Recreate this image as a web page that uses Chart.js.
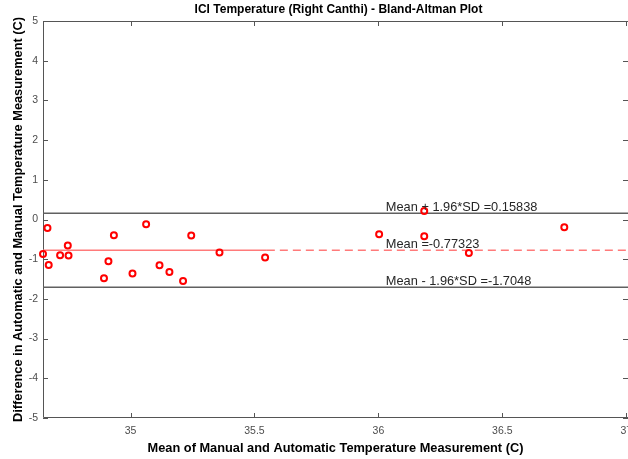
<!DOCTYPE html>
<html>
<head>
<meta charset="utf-8">
<title>ICI Temperature (Right Canthi) - Bland-Altman Plot</title>
<script src="https://cdn.jsdelivr.net/npm/chart.js@4.4.1/dist/chart.umd.min.js"></script>
<style>
  html, body { margin: 0; padding: 0; background: #fff; overflow: hidden; }
</style>
</head>
<body>
<canvas id="baChart" width="628" height="459"></canvas>
<script>
// mean of manual and automatic reading (x) against their difference (y)
var meanVals = [34.647, 34.665, 34.670, 34.716, 34.747, 34.750, 34.893, 34.911, 34.933, 35.008, 35.063,
                35.117, 35.157, 35.212, 35.245, 35.359, 35.543, 36.003, 36.185, 36.185, 36.365, 36.750];
var diffVals = [-0.867, -0.212, -1.144, -0.900, -0.655, -0.907, -1.480, -1.051, -0.396, -1.361, -0.118,
                -1.152, -1.321, -1.548, -0.403, -0.832, -0.958, -0.371, 0.217, -0.421, -0.842, -0.194];

var xTicks = [35, 35.5, 36, 36.5, 37];
var yTicks = [-5, -4, -3, -2, -1, 0, 1, 2, 3, 4, 5];
var xRange = [34.647, 37.007];
var yRange = [-5, 5];

// limits of agreement
var meanDiff = -0.77323;
var upperLoA = 0.15838;
var lowerLoA = -1.7048;
var meanSolidEnd = 35.55;   // mean line is solid up to here, dashed after
var labelX = 36.03;

var labelTexts = [
  { y: upperLoA, text: 'Mean + 1.96*SD =' + upperLoA },
  { y: meanDiff, text: 'Mean =' + meanDiff },
  { y: lowerLoA, text: 'Mean - 1.96*SD =' + lowerLoA }
];

var FONT = "'Liberation Sans', Arial, sans-serif";
Chart.defaults.font.family = FONT;

var points = meanVals.map(function (m, i) { return { x: m, y: diffVals[i] }; });

function hLine(y, x0, x1) {
  return [{ x: x0, y: y }, { x: x1, y: y }];
}

// box, inward ticks, line labels and title
var axesPlugin = {
  id: 'axesPlugin',
  beforeDatasetsDraw: function (chart) {
    var ctx = chart.ctx, a = chart.chartArea;
    var xs = chart.scales.x, ys = chart.scales.y;
    ctx.save();
    ctx.strokeStyle = '#555';
    ctx.lineWidth = 1;
    ctx.beginPath();
    ctx.rect(a.left + 0.5, a.top + 0.5, a.right - a.left, a.bottom - a.top - 1);
    xTicks.forEach(function (v) {
      var px = Math.round(xs.getPixelForValue(v)) + 0.5;
      ctx.moveTo(px, a.bottom); ctx.lineTo(px, a.bottom - 5);
      ctx.moveTo(px, a.top); ctx.lineTo(px, a.top + 5);
    });
    yTicks.forEach(function (v) {
      var py = Math.round(ys.getPixelForValue(v)) + 0.5;
      ctx.moveTo(a.left, py); ctx.lineTo(a.left + 5, py);
      ctx.moveTo(a.right, py); ctx.lineTo(a.right - 5, py);
    });
    ctx.stroke();
    ctx.restore();
  },
  afterDatasetsDraw: function (chart) {
    var ctx = chart.ctx, a = chart.chartArea;
    var xs = chart.scales.x, ys = chart.scales.y;
    ctx.save();
    ctx.fillStyle = '#262626';
    ctx.font = '12.8px ' + FONT;
    ctx.textAlign = 'left';
    ctx.textBaseline = 'alphabetic';
    labelTexts.forEach(function (l) {
      ctx.fillText(l.text, xs.getPixelForValue(labelX), ys.getPixelForValue(l.y) - 2);
    });
    ctx.fillStyle = '#000';
    ctx.font = 'bold 12px ' + FONT;
    ctx.textAlign = 'center';
    ctx.textBaseline = 'middle';
    ctx.fillText('ICI Temperature (Right Canthi) - Bland-Altman Plot', (a.left + a.right) / 2 + 3, 10);
    ctx.restore();
  }
};

var baChart = new Chart(document.getElementById('baChart'), {
  type: 'scatter',
  data: {
    datasets: [
      {
        label: 'Differences',
        data: points,
        borderColor: '#ff0000',
        backgroundColor: 'rgba(255,255,255,0)',
        pointRadius: 3,
        pointBorderWidth: 2,
        showLine: false,
        clip: false
      },
      {
        label: 'Mean',
        data: hLine(meanDiff, xRange[0], meanSolidEnd),
        showLine: true,
        borderColor: '#ff7a7a',
        borderWidth: 1.5,
        pointRadius: 0
      },
      {
        label: 'Mean (extended)',
        data: hLine(meanDiff, meanSolidEnd, xRange[1]),
        showLine: true,
        borderColor: '#ff7a7a',
        borderWidth: 1.5,
        borderDash: [8, 5],
        pointRadius: 0
      },
      {
        label: 'Upper limit',
        data: hLine(upperLoA, xRange[0], xRange[1]),
        showLine: true,
        borderColor: '#606060',
        borderWidth: 1.5,
        pointRadius: 0
      },
      {
        label: 'Lower limit',
        data: hLine(lowerLoA, xRange[0], xRange[1]),
        showLine: true,
        borderColor: '#606060',
        borderWidth: 1.5,
        pointRadius: 0
      }
    ]
  },
  options: {
    responsive: false,
    animation: false,
    devicePixelRatio: 1,
    layout: { autoPadding: false, padding: { top: 21, right: 0, bottom: 0, left: 0 } },
    plugins: {
      legend: { display: false },
      title: { display: false },
      tooltip: { enabled: false }
    },
    scales: {
      x: {
        type: 'linear',
        min: xRange[0],
        max: xRange[1],
        afterBuildTicks: function (s) { s.ticks = xTicks.map(function (v) { return { value: v }; }); },
        afterFit: function (s) { s.height = 41; s.paddingLeft = 0; s.paddingRight = 0; },
        grid: { display: false, drawTicks: false },
        border: { display: false },
        ticks: {
          color: '#4d4d4d',
          font: { size: 10.5 },
          padding: 7,
          maxRotation: 0,
          autoSkip: false,
          callback: function (v) { return String(v); }
        },
        title: {
          display: true,
          text: 'Mean of Manual and Automatic Temperature Measurement (C)',
          color: '#000',
          font: { size: 12.8, weight: 'bold' },
          padding: { top: 0, bottom: 3 }
        }
      },
      y: {
        type: 'linear',
        min: yRange[0],
        max: yRange[1],
        afterBuildTicks: function (s) { s.ticks = yTicks.map(function (v) { return { value: v }; }); },
        afterFit: function (s) { s.width = 43; s.paddingTop = 0; s.paddingBottom = 0; },
        grid: { display: false, drawTicks: false },
        border: { display: false },
        ticks: {
          color: '#4d4d4d',
          font: { size: 10.5 },
          padding: 5,
          callback: function (v) { return String(v); }
        },
        title: {
          display: true,
          text: 'Difference in Automatic and Manual Temperature Measurement (C)',
          color: '#000',
          font: { size: 12.8, weight: 'bold' },
          padding: { top: 11, bottom: 0 }
        }
      }
    }
  },
  plugins: [axesPlugin]
});
</script>
</body>
</html>
